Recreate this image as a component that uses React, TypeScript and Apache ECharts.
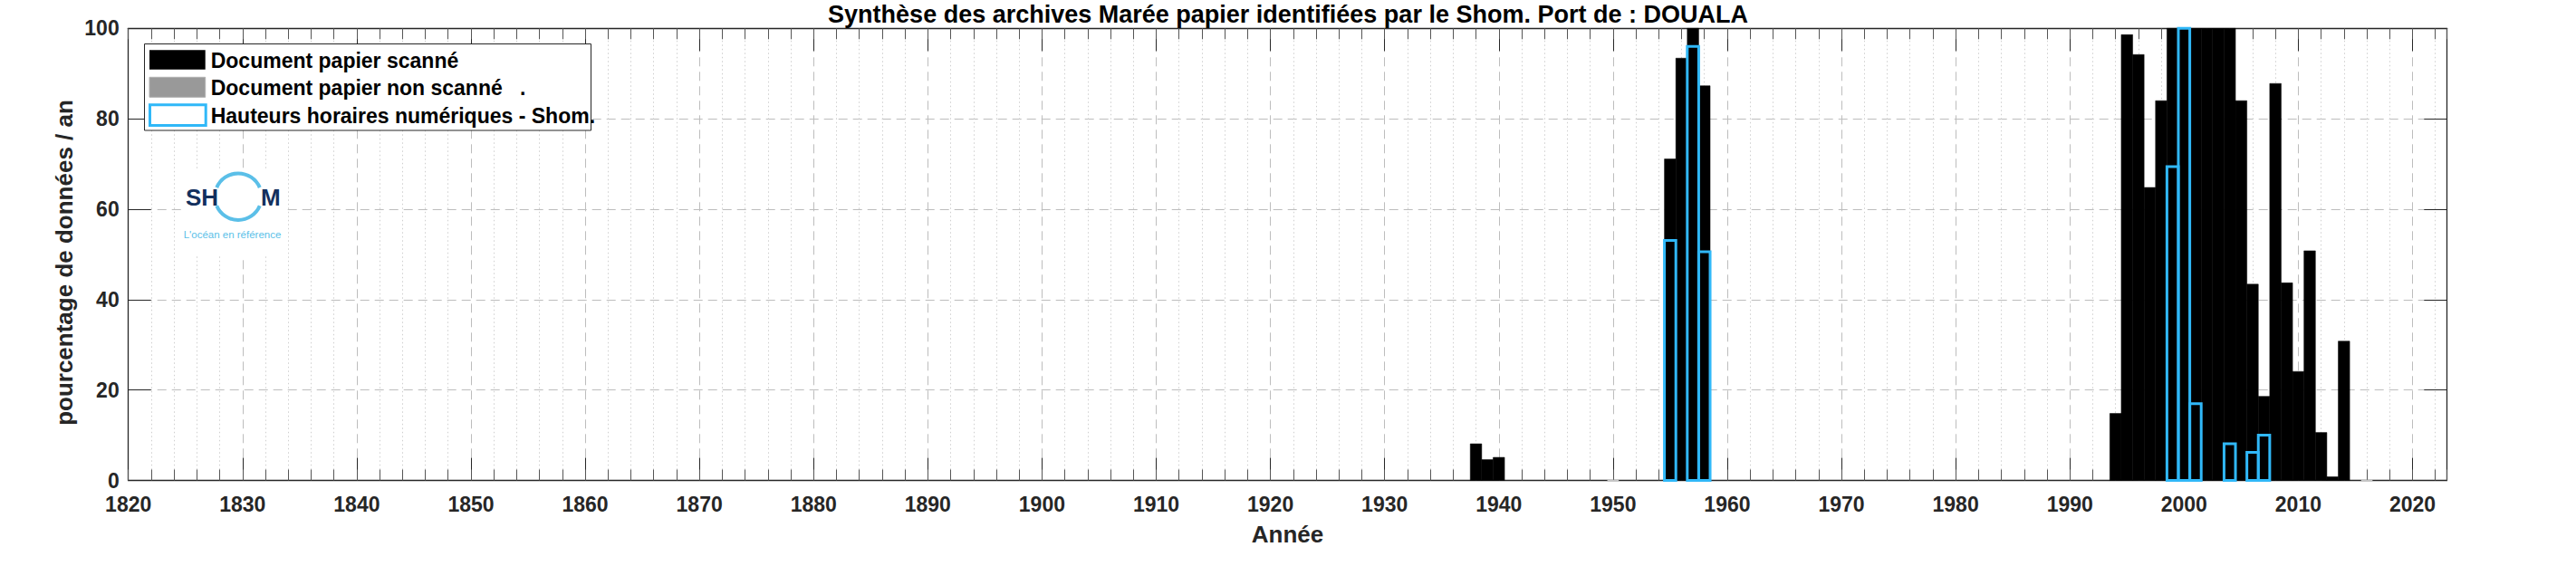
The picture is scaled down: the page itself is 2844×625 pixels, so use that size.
import React, { useEffect, useRef } from "react";
import * as echarts from "echarts";

// ---- Data ----
const scannedYears = [1938, 1939, 1940, 1955, 1956, 1957, 1958, 1994, 1995, 1996, 1997, 1998, 1999, 2000, 2001, 2002, 2003, 2004, 2005, 2006, 2007, 2008, 2009, 2010, 2011, 2012, 2013, 2014];
const scannedValues = [8.1, 4.6, 5.1, 71.1, 93.4, 100, 87.3, 14.8, 98.6, 94.2, 64.8, 84.0, 100, 100, 100, 100, 100, 100, 84.0, 43.4, 18.6, 87.8, 43.7, 24.1, 50.8, 10.6, 0.8, 30.8];
const notScannedYears = [1950, 2016];
const notScannedValues = [0, 0];
const digitalYears = [1955, 1957, 1958, 1999, 2000, 2001, 2004, 2006, 2007];
const digitalValues = [53.1, 96.0, 50.6, 69.4, 100, 17.0, 8.1, 6.2, 10.0];

const legendLabels = [
  "Document papier scanné",
  "Document papier non scanné   .",
  "Hauteurs horaires numériques - Shom.",
];
const titleText = "Synthèse des archives Marée papier identifiées par le Shom. Port de : DOUALA";
const xAxisTitle = "Année";
const yAxisTitle = "pourcentage de données / an";
const xMin = 1820;
const xMax = 2023;
const xMajorStep = 10;
const xMinorStep = 2;
const yMin = 0;
const yMax = 100;
const yStep = 20;

const FONT = "'Liberation Sans', Arial, Helvetica, sans-serif";
const NARROW = "'Liberation Sans Narrow', 'Liberation Sans', Arial, sans-serif";
const AX = "#262626";
const BLUE = "#30b8f8";

function zip(xs: number[], ys: number[]) {
  return xs.map((x, i) => [x, ys[i]]);
}

function barRenderer(style: any) {
  return (_params: any, api: any) => {
    const year = api.value(0);
    const v = api.value(1);
    const p0 = api.coord([year - 0.5, v]);
    const p1 = api.coord([year + 0.5, 0]);
    return {
      type: "rect",
      shape: { x: p0[0], y: p0[1], width: p1[0] - p0[0], height: p1[1] - p0[1] },
      style,
    };
  };
}

const GRID = { left: 141.7, top: 31.3, right: 2844 - 2701.3, bottom: 625 - 530.5 };

export default function App() {
  const ref = useRef<HTMLDivElement>(null);
  useEffect(() => {
    if (!ref.current) return;
    const chart = echarts.init(ref.current, undefined, { renderer: "svg" });
    const dotted = "#cfcfcf";
    const Z = 100;
    const legendText = (t: string, y: number) => ({
      type: "text",
      z: Z + 1,
      x: 232.7,
      y,
      style: { text: t, fill: "#000", fontSize: 23, fontWeight: "bold", fontFamily: FONT, verticalAlign: "middle", align: "left" },
    });
    const option: any = {
      animation: false,
      backgroundColor: "#ffffff",
      title: {
        text: titleText,
        left: "center",
        top: 2,
        padding: 0,
        textStyle: { fontSize: 27, fontWeight: "bold", color: "#000", fontFamily: FONT },
      },
      grid: [{ ...GRID }, { ...GRID }],
      xAxis: [
        {
          gridIndex: 0,
          type: "value",
          position: "bottom",
          min: xMin,
          max: xMax,
          interval: xMajorStep,
          axisLine: { show: true, onZero: false, lineStyle: { color: AX, width: 1.3 } },
          axisTick: { show: true, inside: true, length: 25, lineStyle: { color: AX, width: 1 } },
          axisLabel: {
            show: true,
            margin: 15,
            color: AX,
            fontSize: 23,
            fontWeight: "bold",
            fontFamily: FONT,
            showMaxLabel: false,
            formatter: (v: number) => String(v),
          },
          splitLine: {
            show: true,
            showMinLine: false,
            showMaxLine: false,
            lineStyle: { color: "#bdbdbd", width: 1, type: [10, 6] },
          },
          name: xAxisTitle,
          nameLocation: "middle",
          nameGap: 46,
          nameTextStyle: { fontSize: 26, fontWeight: "bold", color: AX, fontFamily: FONT },
        },
        {
          gridIndex: 0,
          type: "value",
          position: "top",
          min: xMin,
          max: xMax,
          interval: xMajorStep,
          axisLine: { show: true, onZero: false, lineStyle: { color: AX, width: 1.3 } },
          axisTick: { show: true, inside: true, length: 25, lineStyle: { color: AX, width: 1 } },
          axisLabel: { show: false },
          splitLine: { show: false },
        },
        {
          gridIndex: 1,
          type: "value",
          position: "bottom",
          min: xMin,
          max: xMax,
          interval: xMinorStep,
          axisLine: { show: false },
          axisTick: { show: true, inside: true, length: 12, lineStyle: { color: "#555", width: 1 } },
          axisLabel: { show: false },
          splitLine: {
            show: true,
            lineStyle: { color: ["rgba(0,0,0,0)", dotted, dotted, dotted, dotted], width: 1, type: [1.5, 3] },
          },
        },
        {
          gridIndex: 1,
          type: "value",
          position: "top",
          min: xMin,
          max: xMax,
          interval: xMinorStep,
          axisLine: { show: false },
          axisTick: { show: true, inside: true, length: 12, lineStyle: { color: "#555", width: 1 } },
          axisLabel: { show: false },
          splitLine: { show: false },
        },
      ],
      yAxis: [
        {
          gridIndex: 0,
          type: "value",
          position: "left",
          min: yMin,
          max: yMax,
          interval: yStep,
          axisLine: { show: true, onZero: false, lineStyle: { color: AX, width: 1.3 } },
          axisTick: { show: true, inside: true, length: 25, lineStyle: { color: AX, width: 1 } },
          axisLabel: { show: true, margin: 10, color: AX, fontSize: 23, fontWeight: "bold", fontFamily: FONT },
          splitLine: {
            show: true,
            showMinLine: false,
            showMaxLine: false,
            lineStyle: { color: "#bdbdbd", width: 1, type: [10, 6] },
          },
        },
        {
          gridIndex: 0,
          type: "value",
          position: "right",
          min: yMin,
          max: yMax,
          interval: yStep,
          axisLine: { show: true, onZero: false, lineStyle: { color: AX, width: 1.3 } },
          axisTick: { show: true, inside: true, length: 25, lineStyle: { color: AX, width: 1 } },
          axisLabel: { show: false },
          splitLine: { show: false },
        },
        { gridIndex: 1, type: "value", min: yMin, max: yMax, show: false },
      ],
      series: [
        {
          name: legendLabels[0],
          type: "custom",
          xAxisIndex: 0,
          yAxisIndex: 0,
          z: 3,
          renderItem: barRenderer({ fill: "#000000", stroke: "#000000", lineWidth: 0.5 }),
          data: zip(scannedYears, scannedValues),
        },
        {
          name: legendLabels[1],
          type: "custom",
          xAxisIndex: 0,
          yAxisIndex: 0,
          z: 4,
          renderItem: barRenderer({ fill: "#999999", stroke: "#c4c4c4", lineWidth: 1.5 }),
          data: zip(notScannedYears, notScannedValues),
        },
        {
          name: legendLabels[2],
          type: "custom",
          xAxisIndex: 0,
          yAxisIndex: 0,
          z: 5,
          renderItem: barRenderer({ fill: "none", stroke: BLUE, lineWidth: 3 }),
          data: zip(digitalYears, digitalValues),
        },
      ],
      graphic: [
        // y axis title
        {
          type: "text",
          z: Z,
          x: 84,
          y: 290,
          rotation: Math.PI / 2,
          style: { text: yAxisTitle, fill: AX, fontSize: 26, fontWeight: "bold", fontFamily: FONT, align: "center", verticalAlign: "bottom" },
        },
        // legend box
        { type: "rect", z: Z, shape: { x: 159.5, y: 48.5, width: 493, height: 95.5 }, style: { fill: "#fff", stroke: AX, lineWidth: 1 } },
        { type: "rect", z: Z + 1, shape: { x: 165, y: 55.3, width: 61.7, height: 21.4 }, style: { fill: "#000" } },
        { type: "rect", z: Z + 1, shape: { x: 165, y: 85.3, width: 61.7, height: 22 }, style: { fill: "#999999", stroke: "#b0b0b0", lineWidth: 1 } },
        { type: "rect", z: Z + 1, shape: { x: 165.5, y: 115.8, width: 61.7, height: 22.7 }, style: { fill: "#fff", stroke: BLUE, lineWidth: 3 } },
        legendText(legendLabels[0], 66.7),
        legendText(legendLabels[1], 96.7),
        legendText(legendLabels[2], 128.3),
        // Shom logo
        { type: "rect", z: Z, shape: { x: 200, y: 188, width: 116, height: 94 }, style: { fill: "#fff" } },
        { type: "arc", z: Z + 1, shape: { cx: 263, cy: 217.2, r: 25.8, startAngle: Math.PI + 0.4, endAngle: 2 * Math.PI - 0.4, clockwise: true }, style: { stroke: "#5bbfe8", lineWidth: 4, fill: "none" } },
        { type: "arc", z: Z + 1, shape: { cx: 263, cy: 217.2, r: 25.8, startAngle: 0.4, endAngle: Math.PI - 0.4, clockwise: true }, style: { stroke: "#5bbfe8", lineWidth: 4, fill: "none" } },
        { type: "text", z: Z + 1, x: 205, y: 218, style: { text: "SH", fill: "#13305e", fontSize: 26, fontWeight: "bold", fontFamily: NARROW, verticalAlign: "middle", align: "left" } },
        { type: "text", z: Z + 1, x: 288, y: 218, style: { text: "M", fill: "#13305e", fontSize: 26, fontWeight: "bold", fontFamily: NARROW, verticalAlign: "middle", align: "left" } },
        { type: "text", z: Z + 1, x: 256.5, y: 259, style: { text: "L'océan en référence", fill: "#5bbfe8", fontSize: 11.5, fontFamily: NARROW, verticalAlign: "middle", align: "center" } },
      ],
    };
    chart.setOption(option);
    return () => chart.dispose();
  }, []);
  return (
    <div
      ref={ref}
      style={{ position: "absolute", left: 0, top: 0, width: 2844, height: 625, background: "#fff" }}
    />
  );
}
